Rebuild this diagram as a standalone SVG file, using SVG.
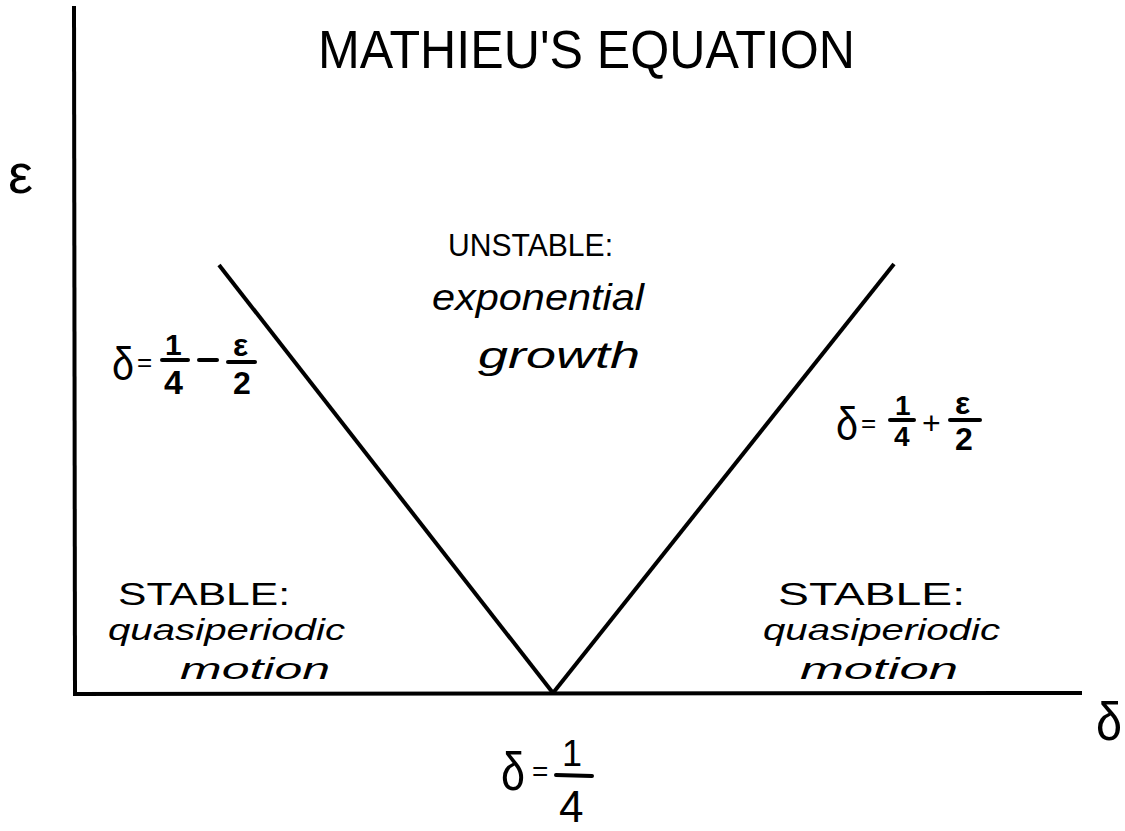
<svg xmlns="http://www.w3.org/2000/svg" width="1125" height="831" viewBox="0 0 1125 831">
<style>
text{font-family:"Liberation Sans",Arial,sans-serif;fill:#000}
.t{font-size:54px}
.c{font-size:32px}
.l{font-size:36px;font-style:italic}
.m{font-size:30px;font-style:italic}
.bar{stroke:#000;stroke-width:4;stroke-linecap:round}
.ax{stroke:#000;stroke-width:4;fill:none}
</style>
<rect width="1125" height="831" fill="#fff"/>
<g id="axes">
<line class="ax" x1="74" y1="6" x2="75" y2="696"/>
<line class="ax" x1="73" y1="694" x2="1082" y2="693"/>
</g>
<g id="connectors">
<line class="ax" stroke-width="3" x1="219" y1="265" x2="553" y2="693"/>
<line class="ax" stroke-width="3" x1="553" y1="693" x2="894" y2="264"/>
</g>
<g id="title"><text class="t" x="318" y="68" textLength="537" lengthAdjust="spacingAndGlyphs">MATHIEU'S EQUATION</text></g>
<g id="eps-axis"><text x="8" y="193" font-size="56">ε</text></g>
<g id="delta-axis"><text x="1096" y="740" font-size="54" textLength="26" lengthAdjust="spacingAndGlyphs">δ</text></g>
<g id="unstable">
<text class="c" x="448" y="256" textLength="165" lengthAdjust="spacingAndGlyphs">UNSTABLE:</text>
<text class="l" x="432" y="310" textLength="212" lengthAdjust="spacingAndGlyphs">exponential</text>
<text class="l" x="478" y="368" textLength="162" lengthAdjust="spacingAndGlyphs">growth</text>
</g>
<g id="stable-left">
<text class="c" x="118" y="605" textLength="172" lengthAdjust="spacingAndGlyphs">STABLE:</text>
<text class="m" x="108" y="640" textLength="237" lengthAdjust="spacingAndGlyphs">quasiperiodic</text>
<text class="m" x="180" y="679" textLength="150" lengthAdjust="spacingAndGlyphs">motion</text>
</g>
<g id="stable-right">
<text class="c" x="778" y="605" textLength="187" lengthAdjust="spacingAndGlyphs">STABLE:</text>
<text class="m" x="763" y="640" textLength="237" lengthAdjust="spacingAndGlyphs">quasiperiodic</text>
<text class="m" x="800" y="679" textLength="158" lengthAdjust="spacingAndGlyphs">motion</text>
</g>
<g id="label-left">
<text x="112" y="380" font-size="46" textLength="22" lengthAdjust="spacingAndGlyphs">δ</text>
<text x="137" y="371" font-size="26">=</text>
<text x="165" y="355" font-size="30" font-weight="bold">1</text>
<line class="bar" x1="162" y1="360" x2="188" y2="360"/>
<text x="164" y="394" font-size="34" font-weight="bold">4</text>
<line class="bar" x1="199" y1="360" x2="217" y2="360"/>
<text x="233" y="356" font-size="32" font-weight="bold">ε</text>
<line class="bar" x1="228" y1="362" x2="255" y2="362"/>
<text x="233" y="394" font-size="32" font-weight="bold">2</text>
</g>
<g id="label-right">
<text x="836" y="440" font-size="46" textLength="22" lengthAdjust="spacingAndGlyphs">δ</text>
<text x="861" y="432" font-size="26">=</text>
<text x="895" y="415" font-size="28" font-weight="bold">1</text>
<line class="bar" x1="890" y1="420" x2="914" y2="420"/>
<text x="894" y="446" font-size="28" font-weight="bold">4</text>
<text x="922" y="434" font-size="32">+</text>
<text x="955" y="414" font-size="32" font-weight="bold">ε</text>
<line class="bar" x1="950" y1="420" x2="980" y2="420"/>
<text x="955" y="450" font-size="32" font-weight="bold">2</text>
</g>
<g id="label-bottom">
<text x="501" y="790" font-size="54" textLength="24" lengthAdjust="spacingAndGlyphs">δ</text>
<text x="532" y="781" font-size="28">=</text>
<text x="562" y="766" font-size="36">1</text>
<line class="bar" x1="556" y1="775" x2="592" y2="776"/>
<text x="559" y="822" font-size="44">4</text>
</g>
</svg>
